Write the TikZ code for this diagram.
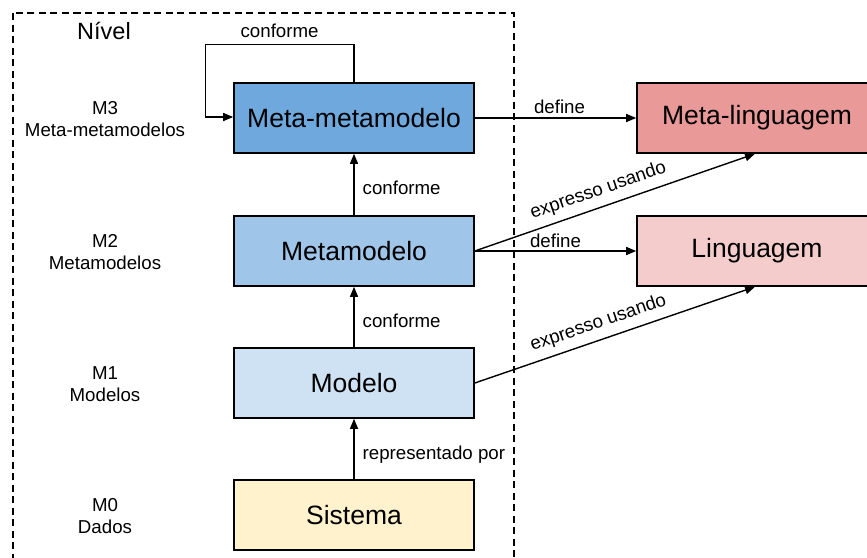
\documentclass[tikz,border=0pt]{standalone}
\usepackage{fontspec}
\setmainfont{Liberation Sans}
\usetikzlibrary{arrows.meta,positioning,calc}
\definecolor{cmmm}{HTML}{6FA8DC}
\definecolor{cmm}{HTML}{9FC5E8}
\definecolor{cm}{HTML}{CFE2F3}
\definecolor{csis}{HTML}{FFF2CC}
\definecolor{cml}{HTML}{EA9999}
\definecolor{cl}{HTML}{F4CCCC}
\tikzset{
  box/.style={draw, line width=1.6pt, minimum width=240pt, minimum height=70pt, inner sep=0pt,
    font=\fontsize{26.5}{30}\selectfont},
  arr/.style={line width=1.4pt, -{Triangle[length=10pt,width=8pt]}},
  lbl/.style={font=\fontsize{18.7}{22}\selectfont, inner sep=2pt},
  lvl/.style={font=\fontsize{18.7}{22}\selectfont, align=center},
  frame/.style={line width=1.3pt, dash pattern=on 7pt off 4.5pt}
}
\begin{document}
\begin{tikzpicture}[x=1pt,y=-1pt]
\useasboundingbox (0,0) rectangle (867,557);
\clip (0,0) rectangle (867,557);
\draw[frame] (13,13) rectangle (514,575);
\node[font=\fontsize{23.5}{28}\selectfont] (nivel) at (104,31) {Nível};
\node[lvl] (l3) at (105,119) {M3\\Meta-metamodelos};
\node[lvl] (l2) at (105,252) {M2\\Metamodelos};
\node[lvl] (l1) at (105,384) {M1\\Modelos};
\node[lvl] (l0) at (105,516) {M0\\Dados};
\node[box, fill=cmmm] (mmm) at (354,118) {Meta-metamodelo};
\node[box, fill=cmm] (mm) at (354,251) {Metamodelo};
\node[box, fill=cm] (m) at (354,383) {Modelo};
\node[box, fill=csis] (sis) at (354,515) {Sistema};
\node[box, fill=cml] (ml) at (757,118) {Meta-linguagem};
\node[box, fill=cl] (lg) at (757,251) {Linguagem};
\draw[arr] (mmm.north) -- ++(0,-38) -| ([xshift=-28pt,yshift=1pt]mmm.west)
  node[lbl, pos=0.25, above=4pt] {conforme} -- ([yshift=1pt]mmm.west);
\draw[arr] (mm.north) -- node[lbl, right=6pt, yshift=-3pt] {conforme} (mmm.south);
\draw[arr] (m.north) -- node[lbl, right=6pt, yshift=-4pt] {conforme} (mm.south);
\draw[arr] (sis.north) -- node[lbl, right=6pt, yshift=-6pt] {representado por} (m.south);
\draw[arr] (mmm.east) -- node[lbl, above=2pt, xshift=4pt] {define} (ml.west);
\draw[arr] (mm.east) -- node[lbl, above=1pt] {define} (lg.west);
\draw[arr] (mm.east) -- node[lbl, sloped, above=5pt, pos=0.46] {expresso usando} ([xshift=-2pt]ml.south);
\draw[arr] (m.east) -- node[lbl, sloped, above=5pt, pos=0.46] {expresso usando} ([xshift=-2pt]lg.south);
\end{tikzpicture}
\end{document}
